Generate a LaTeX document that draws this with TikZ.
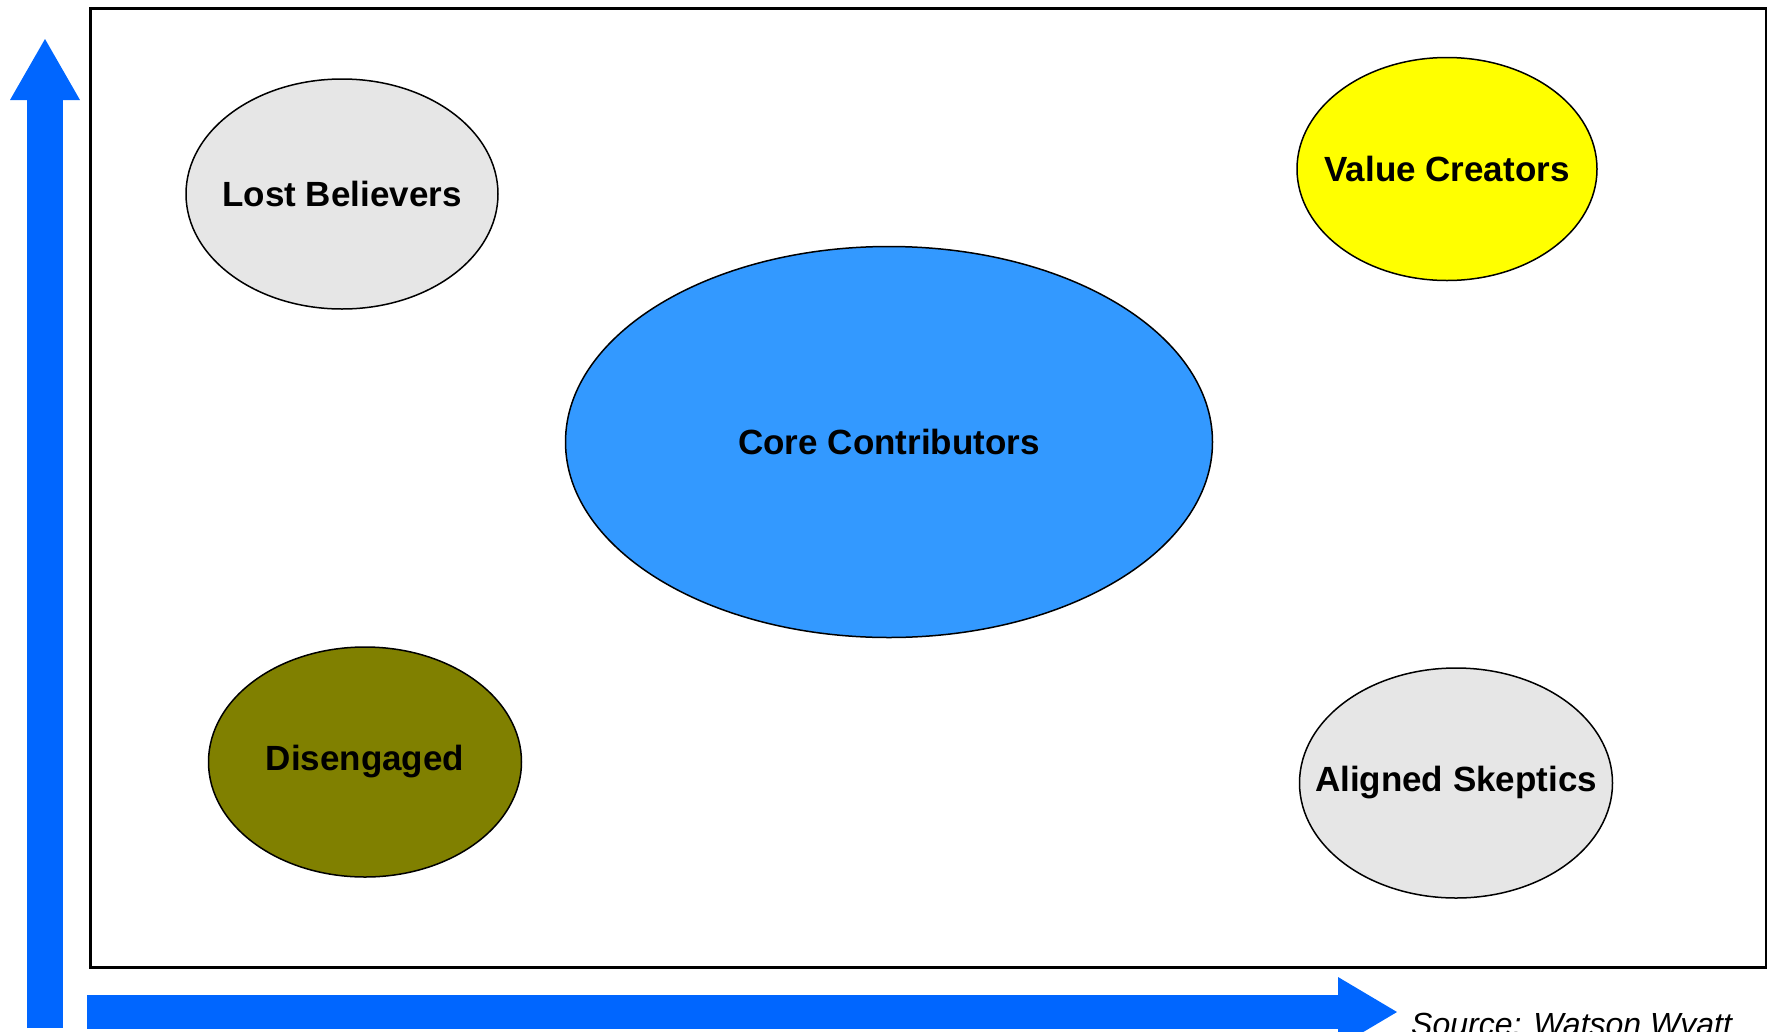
\documentclass[tikz,border=0pt]{standalone}
\usepackage{fontspec}
\setmainfont{Liberation Sans}
\usepackage{tikz}
\usetikzlibrary{shapes.geometric, arrows.meta}
\definecolor{axisblue}{HTML}{0066FF}
\definecolor{coreblue}{HTML}{3399FF}
\definecolor{paleshade}{HTML}{E6E6E6}
\definecolor{oliveshade}{HTML}{808000}
\definecolor{valueyellow}{HTML}{FFFF00}
\tikzset{
group/.style={ellipse, draw, line width=1.5pt, inner xsep=-60pt, inner ysep=0pt, font=\fontsize{35}{42}\selectfont\bfseries}, % one segment of the map
axis/.style={draw=axisblue, line width=36pt}, % the thick blue axes
frame/.style={draw, line width=3pt}, % the box round the map
}

\begin{document}
\begin{tikzpicture}[x=1pt, y=-1pt]
            \useasboundingbox (0,0) rectangle (1767,1031);
            \draw[frame] (90,8) rectangle (1766,967);
            % axes
            \coordinate (ybot) at (45,1028);
            \coordinate (ytop) at (45,39);
            \coordinate (xleft) at (87,1012);
            \coordinate (xright) at (1397,1012);
            \draw[axis, -{Triangle[length=61pt, width=70pt, line width=0pt]}] (ybot) -- (ytop);
            \draw[axis, line width=34pt, -{Triangle[length=59pt, width=70pt, line width=0pt]}] (xleft) -- (xright);
            % segments
            \node[group, fill=paleshade, minimum width=312pt, minimum height=230pt] (lost) at (342,194) {Lost Believers};
            \node[group, fill=valueyellow, minimum width=300pt, minimum height=223pt] (value) at (1447,169) {Value Creators};
            \node[group, fill=coreblue, minimum width=647pt, minimum height=391pt] (core) at (889,442) {Core Contributors};
            \node[group, fill=oliveshade, minimum width=313pt, minimum height=230pt] (dis) at (365,762) {Disengaged};
            \node[group, fill=paleshade, minimum width=313pt, minimum height=230pt] (skeptic) at (1456,783) {Aligned Skeptics};
            \node[anchor=base west, inner sep=0pt, font=\fontsize{32}{38}\selectfont\itshape] (source) at (1411,1035) {Source: Watson Wyatt};
        \end{tikzpicture}
\end{document}
